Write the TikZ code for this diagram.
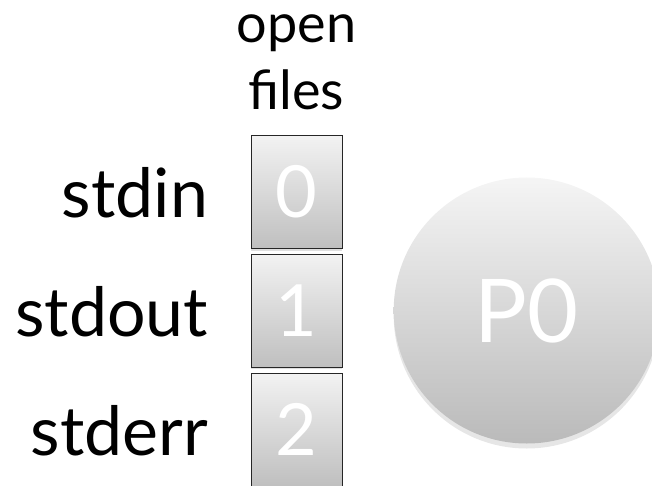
\documentclass[tikz,border=0pt]{standalone}
\usepackage{fontspec}
\setmainfont{Lato}
\usetikzlibrary{positioning,shadows}

\tikzset{
  fdbox/.style={draw=black!85, line width=1pt, top color=black!5, bottom color=black!25,
    minimum width=91pt, minimum height=113pt, inner sep=0pt, text=white,
    font=\fontsize{72}{72}\selectfont,
    drop shadow={opacity=.25, shadow xshift=0pt, shadow yshift=-2pt}},
  fdlabel/.style={font=\fontsize{68}{68}\selectfont},
  proc/.style={circle, minimum size=266pt, inner sep=0pt, top color=black!4, bottom color=black!27,
    text=white, font=\fontsize{88}{88}\selectfont,
    drop shadow={opacity=.2, shadow xshift=0pt, shadow yshift=-5pt}}
}

\begin{document}
\begin{tikzpicture}[x=1pt, y=-1pt]
    \useasboundingbox (0, 0) rectangle (652, 486);

    % file descriptor table
    \node[fdbox] (fd0) at (296.5, 192) {0};
    \node[fdbox] (fd1) at (296.5, 310.5) {1};
    \node[fdbox] (fd2) at (296.5, 429.5) {2};

    \node[align=center, font=\fontsize{54}{67}\selectfont, above=22pt of fd0] (title) {open\\files};

    \node[fdlabel, base left=39pt of fd0] (in) {stdin};
    \node[fdlabel, base left=39pt of fd1] (out) {stdout};
    \node[fdlabel, base left=39pt of fd2] (err) {stderr};

    % the process
    \node[proc, right=51pt of fd1] (p0) {P0};
\end{tikzpicture}
\end{document}
